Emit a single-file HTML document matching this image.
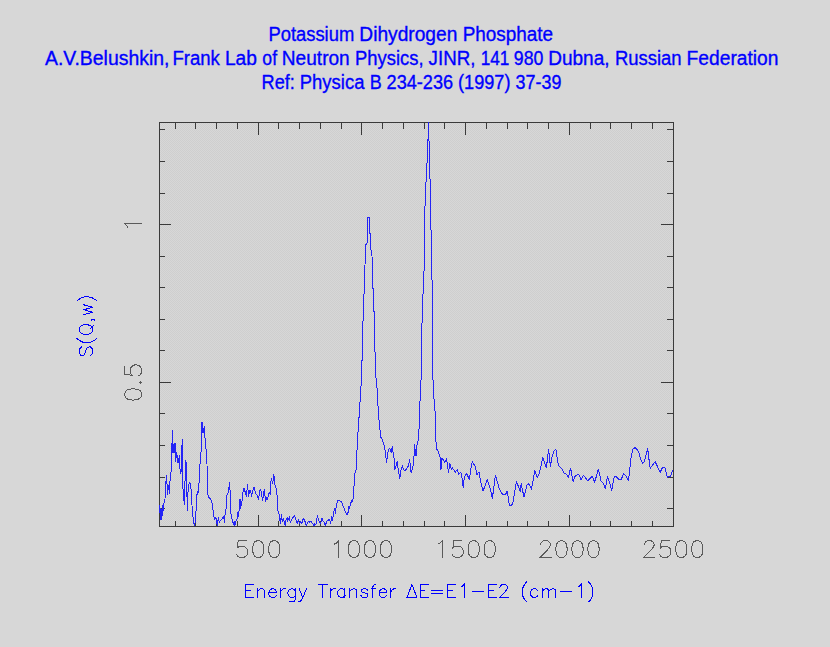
<!DOCTYPE html>
<html><head><meta charset="utf-8"><title>Potassium Dihydrogen Phosphate</title>
<style>
html,body{margin:0;padding:0;background:#d7d7d7;}
body{width:830px;height:647px;overflow:hidden;position:relative;font-family:"Liberation Sans",sans-serif;}
.t{position:absolute;left:0;width:822px;text-align:center;color:#0000ff;font-size:17px;line-height:20px;white-space:nowrap;}
svg{position:absolute;left:0;top:0;}
text{font-family:"Liberation Sans",sans-serif;}
</style></head><body>
<svg width="830" height="647" viewBox="0 0 830 647">
<defs><pattern id="dz" width="2" height="2" patternUnits="userSpaceOnUse"><rect width="2" height="2" fill="#d7d7d7"/><rect width="1" height="1" fill="#cecece"/><rect x="1" y="1" width="1" height="1" fill="#cecece"/></pattern></defs>
<rect x="160" y="123" width="513" height="403" fill="url(#dz)" shape-rendering="crispEdges"/>
<path d="M175.5 526.5v-5.5M175.5 122.5v6.5 M195.5 526.5v-5.5M195.5 122.5v6.5 M216.5 526.5v-5.5M216.5 122.5v6.5 M237.5 526.5v-5.5M237.5 122.5v6.5 M258.5 526.5v-11.5M258.5 122.5v12.5 M278.5 526.5v-5.5M278.5 122.5v6.5 M299.5 526.5v-5.5M299.5 122.5v6.5 M320.5 526.5v-5.5M320.5 122.5v6.5 M341.5 526.5v-5.5M341.5 122.5v6.5 M361.5 526.5v-11.5M361.5 122.5v12.5 M382.5 526.5v-5.5M382.5 122.5v6.5 M403.5 526.5v-5.5M403.5 122.5v6.5 M424.5 526.5v-5.5M424.5 122.5v6.5 M444.5 526.5v-5.5M444.5 122.5v6.5 M465.5 526.5v-11.5M465.5 122.5v12.5 M486.5 526.5v-5.5M486.5 122.5v6.5 M507.5 526.5v-5.5M507.5 122.5v6.5 M527.5 526.5v-5.5M527.5 122.5v6.5 M548.5 526.5v-5.5M548.5 122.5v6.5 M569.5 526.5v-11.5M569.5 122.5v12.5 M590.5 526.5v-5.5M590.5 122.5v6.5 M610.5 526.5v-5.5M610.5 122.5v6.5 M631.5 526.5v-5.5M631.5 122.5v6.5 M652.5 526.5v-5.5M652.5 122.5v6.5 M159.5 508.5h5.5M673.5 508.5h-6.5 M159.5 477.5h5.5M673.5 477.5h-6.5 M159.5 445.5h5.5M673.5 445.5h-6.5 M159.5 413.5h5.5M673.5 413.5h-6.5 M159.5 382.5h11.5M673.5 382.5h-12.5 M159.5 350.5h5.5M673.5 350.5h-6.5 M159.5 319.5h5.5M673.5 319.5h-6.5 M159.5 287.5h5.5M673.5 287.5h-6.5 M159.5 256.5h5.5M673.5 256.5h-6.5 M159.5 224.5h11.5M673.5 224.5h-12.5 M159.5 193.5h5.5M673.5 193.5h-6.5 M159.5 161.5h5.5M673.5 161.5h-6.5 M159.5 129.5h5.5M673.5 129.5h-6.5" stroke="#3a3a3a" stroke-width="1" fill="none" shape-rendering="crispEdges"/>
<rect x="159.5" y="122.5" width="514.0" height="404.0" fill="none" stroke="#3a3a3a" stroke-width="1" shape-rendering="crispEdges"/>
<path d="M246.17 540.70 L238.17 540.70 L237.37 547.90 L238.17 547.10 L240.57 546.30 L242.97 546.30 L245.37 547.10 L246.97 548.70 L247.77 551.10 L247.77 552.70 L246.97 555.10 L245.37 556.70 L242.97 557.50 L240.57 557.50 L238.17 556.70 L237.37 555.90 L236.57 554.30 M257.37 540.70 L254.97 541.50 L253.37 543.90 L252.57 547.90 L252.57 550.30 L253.37 554.30 L254.97 556.70 L257.37 557.50 L258.97 557.50 L261.37 556.70 L262.97 554.30 L263.77 550.30 L263.77 547.90 L262.97 543.90 L261.37 541.50 L258.97 540.70 L257.37 540.70 M273.37 540.70 L270.97 541.50 L269.37 543.90 L268.57 547.90 L268.57 550.30 L269.37 554.30 L270.97 556.70 L273.37 557.50 L274.97 557.50 L277.37 556.70 L278.97 554.30 L279.77 550.30 L279.77 547.90 L278.97 543.90 L277.37 541.50 L274.97 540.70 L273.37 540.70 M334.74 543.90 L336.34 543.10 L338.74 540.70 L338.74 557.50 M353.14 540.70 L350.74 541.50 L349.14 543.90 L348.34 547.90 L348.34 550.30 L349.14 554.30 L350.74 556.70 L353.14 557.50 L354.74 557.50 L357.14 556.70 L358.74 554.30 L359.54 550.30 L359.54 547.90 L358.74 543.90 L357.14 541.50 L354.74 540.70 L353.14 540.70 M369.14 540.70 L366.74 541.50 L365.14 543.90 L364.34 547.90 L364.34 550.30 L365.14 554.30 L366.74 556.70 L369.14 557.50 L370.74 557.50 L373.14 556.70 L374.74 554.30 L375.54 550.30 L375.54 547.90 L374.74 543.90 L373.14 541.50 L370.74 540.70 L369.14 540.70 M385.14 540.70 L382.74 541.50 L381.14 543.90 L380.34 547.90 L380.34 550.30 L381.14 554.30 L382.74 556.70 L385.14 557.50 L386.74 557.50 L389.14 556.70 L390.74 554.30 L391.54 550.30 L391.54 547.90 L390.74 543.90 L389.14 541.50 L386.74 540.70 L385.14 540.70 M438.51 543.90 L440.11 543.10 L442.51 540.70 L442.51 557.50 M461.71 540.70 L453.71 540.70 L452.91 547.90 L453.71 547.10 L456.11 546.30 L458.51 546.30 L460.91 547.10 L462.51 548.70 L463.31 551.10 L463.31 552.70 L462.51 555.10 L460.91 556.70 L458.51 557.50 L456.11 557.50 L453.71 556.70 L452.91 555.90 L452.11 554.30 M472.91 540.70 L470.51 541.50 L468.91 543.90 L468.11 547.90 L468.11 550.30 L468.91 554.30 L470.51 556.70 L472.91 557.50 L474.51 557.50 L476.91 556.70 L478.51 554.30 L479.31 550.30 L479.31 547.90 L478.51 543.90 L476.91 541.50 L474.51 540.70 L472.91 540.70 M488.91 540.70 L486.51 541.50 L484.91 543.90 L484.11 547.90 L484.11 550.30 L484.91 554.30 L486.51 556.70 L488.91 557.50 L490.51 557.50 L492.91 556.70 L494.51 554.30 L495.31 550.30 L495.31 547.90 L494.51 543.90 L492.91 541.50 L490.51 540.70 L488.91 540.70 M540.68 544.70 L540.68 543.90 L541.48 542.30 L542.28 541.50 L543.88 540.70 L547.08 540.70 L548.68 541.50 L549.48 542.30 L550.28 543.90 L550.28 545.50 L549.48 547.10 L547.88 549.50 L539.88 557.50 L551.08 557.50 M560.68 540.70 L558.28 541.50 L556.68 543.90 L555.88 547.90 L555.88 550.30 L556.68 554.30 L558.28 556.70 L560.68 557.50 L562.28 557.50 L564.68 556.70 L566.28 554.30 L567.08 550.30 L567.08 547.90 L566.28 543.90 L564.68 541.50 L562.28 540.70 L560.68 540.70 M576.68 540.70 L574.28 541.50 L572.68 543.90 L571.88 547.90 L571.88 550.30 L572.68 554.30 L574.28 556.70 L576.68 557.50 L578.28 557.50 L580.68 556.70 L582.28 554.30 L583.08 550.30 L583.08 547.90 L582.28 543.90 L580.68 541.50 L578.28 540.70 L576.68 540.70 M592.68 540.70 L590.28 541.50 L588.68 543.90 L587.88 547.90 L587.88 550.30 L588.68 554.30 L590.28 556.70 L592.68 557.50 L594.28 557.50 L596.68 556.70 L598.28 554.30 L599.08 550.30 L599.08 547.90 L598.28 543.90 L596.68 541.50 L594.28 540.70 L592.68 540.70 M644.45 544.70 L644.45 543.90 L645.25 542.30 L646.05 541.50 L647.65 540.70 L650.85 540.70 L652.45 541.50 L653.25 542.30 L654.05 543.90 L654.05 545.50 L653.25 547.10 L651.65 549.50 L643.65 557.50 L654.85 557.50 M669.25 540.70 L661.25 540.70 L660.45 547.90 L661.25 547.10 L663.65 546.30 L666.05 546.30 L668.45 547.10 L670.05 548.70 L670.85 551.10 L670.85 552.70 L670.05 555.10 L668.45 556.70 L666.05 557.50 L663.65 557.50 L661.25 556.70 L660.45 555.90 L659.65 554.30 M680.45 540.70 L678.05 541.50 L676.45 543.90 L675.65 547.90 L675.65 550.30 L676.45 554.30 L678.05 556.70 L680.45 557.50 L682.05 557.50 L684.45 556.70 L686.05 554.30 L686.85 550.30 L686.85 547.90 L686.05 543.90 L684.45 541.50 L682.05 540.70 L680.45 540.70 M696.45 540.70 L694.05 541.50 L692.45 543.90 L691.65 547.90 L691.65 550.30 L692.45 554.30 L694.05 556.70 L696.45 557.50 L698.05 557.50 L700.45 556.70 L702.05 554.30 L702.85 550.30 L702.85 547.90 L702.05 543.90 L700.45 541.50 L698.05 540.70 L696.45 540.70 M124.70 395.20 L125.50 397.60 L127.90 399.20 L131.90 400.00 L134.30 400.00 L138.30 399.20 L140.70 397.60 L141.50 395.20 L141.50 393.60 L140.70 391.20 L138.30 389.60 L134.30 388.80 L131.90 388.80 L127.90 389.60 L125.50 391.20 L124.70 393.60 L124.70 395.20 M139.90 382.40 L140.70 383.20 L141.50 382.40 L140.70 381.60 L139.90 382.40 M124.70 366.40 L124.70 374.40 L131.90 375.20 L131.10 374.40 L130.30 372.00 L130.30 369.60 L131.10 367.20 L132.70 365.60 L135.10 364.80 L136.70 364.80 L139.10 365.60 L140.70 367.20 L141.50 369.60 L141.50 372.00 L140.70 374.40 L139.90 375.20 L138.30 376.00 M127.90 227.80 L127.10 226.20 L124.70 223.80 L141.50 223.80" stroke="#5a5a5a" stroke-width="1" fill="none" stroke-linecap="square" shape-rendering="crispEdges"/>
<path d="M245.78 584.48 L245.78 597.50 M245.78 584.48 L253.84 584.48 M245.78 590.68 L250.74 590.68 M245.78 597.50 L253.84 597.50 M257.56 588.82 L257.56 597.50 M257.56 591.30 L259.42 589.44 L260.66 588.82 L262.52 588.82 L263.76 589.44 L264.38 591.30 L264.38 597.50 M268.72 592.54 L276.16 592.54 L276.16 591.30 L275.54 590.06 L274.92 589.44 L273.68 588.82 L271.82 588.82 L270.58 589.44 L269.34 590.68 L268.72 592.54 L268.72 593.78 L269.34 595.64 L270.58 596.88 L271.82 597.50 L273.68 597.50 L274.92 596.88 L276.16 595.64 M280.50 588.82 L280.50 597.50 M280.50 592.54 L281.12 590.68 L282.36 589.44 L283.60 588.82 L285.46 588.82 M295.38 588.82 L295.38 598.74 L294.76 600.60 L294.14 601.22 L292.90 601.84 L291.04 601.84 L289.80 601.22 M295.38 590.68 L294.14 589.44 L292.90 588.82 L291.04 588.82 L289.80 589.44 L288.56 590.68 L287.94 592.54 L287.94 593.78 L288.56 595.64 L289.80 596.88 L291.04 597.50 L292.90 597.50 L294.14 596.88 L295.38 595.64 M299.10 588.82 L302.82 597.50 M306.54 588.82 L302.82 597.50 L301.58 599.98 L300.34 601.22 L299.10 601.84 L298.48 601.84 M322.66 584.48 L322.66 597.50 M318.32 584.48 L327.00 584.48 M330.10 588.82 L330.10 597.50 M330.10 592.54 L330.72 590.68 L331.96 589.44 L333.20 588.82 L335.06 588.82 M344.98 588.82 L344.98 597.50 M344.98 590.68 L343.74 589.44 L342.50 588.82 L340.64 588.82 L339.40 589.44 L338.16 590.68 L337.54 592.54 L337.54 593.78 L338.16 595.64 L339.40 596.88 L340.64 597.50 L342.50 597.50 L343.74 596.88 L344.98 595.64 M349.94 588.82 L349.94 597.50 M349.94 591.30 L351.80 589.44 L353.04 588.82 L354.90 588.82 L356.14 589.44 L356.76 591.30 L356.76 597.50 M367.92 590.68 L367.30 589.44 L365.44 588.82 L363.58 588.82 L361.72 589.44 L361.10 590.68 L361.72 591.92 L362.96 592.54 L366.06 593.16 L367.30 593.78 L367.92 595.02 L367.92 595.64 L367.30 596.88 L365.44 597.50 L363.58 597.50 L361.72 596.88 L361.10 595.64 M375.98 584.48 L374.74 584.48 L373.50 585.10 L372.88 586.96 L372.88 597.50 M371.02 588.82 L375.36 588.82 M379.08 592.54 L386.52 592.54 L386.52 591.30 L385.90 590.06 L385.28 589.44 L384.04 588.82 L382.18 588.82 L380.94 589.44 L379.70 590.68 L379.08 592.54 L379.08 593.78 L379.70 595.64 L380.94 596.88 L382.18 597.50 L384.04 597.50 L385.28 596.88 L386.52 595.64 M390.86 588.82 L390.86 597.50 M390.86 592.54 L391.48 590.68 L392.72 589.44 L393.96 588.82 L395.82 588.82 M411.94 584.48 L406.98 597.50 L416.90 597.50 L411.94 584.48 M420.00 584.48 L420.00 597.50 M420.00 584.48 L428.06 584.48 M420.00 590.68 L424.96 590.68 M420.00 597.50 L428.06 597.50 M431.78 590.06 L442.94 590.06 M431.78 593.78 L442.94 593.78 M447.90 584.48 L447.90 597.50 M447.90 584.48 L455.96 584.48 M447.90 590.68 L452.86 590.68 M447.90 597.50 L455.96 597.50 M460.92 586.96 L462.16 586.34 L464.02 584.48 L464.02 597.50 M472.08 591.92 L483.24 591.92 M488.20 584.48 L488.20 597.50 M488.20 584.48 L496.26 584.48 M488.20 590.68 L493.16 590.68 M488.20 597.50 L496.26 597.50 M499.98 587.58 L499.98 586.96 L500.60 585.72 L501.22 585.10 L502.46 584.48 L504.94 584.48 L506.18 585.10 L506.80 585.72 L507.42 586.96 L507.42 588.20 L506.80 589.44 L505.56 591.30 L499.36 597.50 L508.04 597.50 M526.64 582.00 L525.40 583.24 L524.16 585.10 L522.92 587.58 L522.30 590.68 L522.30 593.16 L522.92 596.26 L524.16 598.74 L525.40 600.60 L526.64 601.84 M537.80 590.68 L536.56 589.44 L535.32 588.82 L533.46 588.82 L532.22 589.44 L530.98 590.68 L530.36 592.54 L530.36 593.78 L530.98 595.64 L532.22 596.88 L533.46 597.50 L535.32 597.50 L536.56 596.88 L537.80 595.64 M542.14 588.82 L542.14 597.50 M542.14 591.30 L544.00 589.44 L545.24 588.82 L547.10 588.82 L548.34 589.44 L548.96 591.30 L548.96 597.50 M548.96 591.30 L550.82 589.44 L552.06 588.82 L553.92 588.82 L555.16 589.44 L555.78 591.30 L555.78 597.50 M560.74 591.92 L571.90 591.92 M578.10 586.96 L579.34 586.34 L581.20 584.48 L581.20 597.50 M588.64 582.00 L589.88 583.24 L591.12 585.10 L592.36 587.58 L592.98 590.68 L592.98 593.16 L592.36 596.26 L591.12 598.74 L589.88 600.60 L588.64 601.84 M81.34 346.98 L80.10 348.22 L79.48 350.08 L79.48 352.56 L80.10 354.42 L81.34 355.66 L82.58 355.66 L83.82 355.04 L84.44 354.42 L85.06 353.18 L86.30 349.46 L86.92 348.22 L87.54 347.60 L88.78 346.98 L90.64 346.98 L91.88 348.22 L92.50 350.08 L92.50 352.56 L91.88 354.42 L90.64 355.66 M77.00 338.30 L78.24 339.54 L80.10 340.78 L82.58 342.02 L85.68 342.64 L88.16 342.64 L91.26 342.02 L93.74 340.78 L95.60 339.54 L96.84 338.30 M79.48 330.86 L80.10 332.10 L81.34 333.34 L82.58 333.96 L84.44 334.58 L87.54 334.58 L89.40 333.96 L90.64 333.34 L91.88 332.10 L92.50 330.86 L92.50 328.38 L91.88 327.14 L90.64 325.90 L89.40 325.28 L87.54 324.66 L84.44 324.66 L82.58 325.28 L81.34 325.90 L80.10 327.14 L79.48 328.38 L79.48 330.86 M90.02 329.00 L93.74 325.28 M91.88 319.08 L92.50 319.70 L91.88 320.32 L91.26 319.70 L91.88 319.08 L93.12 319.08 L94.36 319.70 L94.98 320.32 M83.82 314.74 L92.50 312.26 M83.82 309.78 L92.50 312.26 M83.82 309.78 L92.50 307.30 M83.82 304.82 L92.50 307.30 M77.00 301.10 L78.24 299.86 L80.10 298.62 L82.58 297.38 L85.68 296.76 L88.16 296.76 L91.26 297.38 L93.74 298.62 L95.60 299.86 L96.84 301.10" stroke="#0000ff" stroke-width="1" fill="none" stroke-linecap="square" shape-rendering="crispEdges"/>
<path d="M159.5 513.0 L159.8 505.0 L160.3 520.0 L160.8 508.0 L161.3 520.0 L161.8 509.0 L162.2 516.0 L162.6 505.5 L162.9 513.0 L163.3 505.5 L164.4 501.3 L165.0 498.9 L165.4 486.9 L166.3 478.7 L166.6 475.3 L167.0 483.5 L167.5 494.6 L168.5 485.9 L169.5 493.9 L169.5 481.6 L170.7 479.6 L170.7 473.4 L171.6 470.0 L171.6 455.7 L172.4 430.2 L172.9 442.0 L173.0 453.2 L174.1 443.0 L174.7 453.0 L175.2 443.8 L175.6 461.7 L176.7 452.3 L178.0 463.4 L179.5 455.3 L180.1 471.0 L180.9 474.0 L181.3 468.0 L182.2 439.1 L182.6 484.0 L184.3 504.7 L185.6 460.8 L186.6 463.4 L186.8 489.0 L187.4 510.7 L188.1 490.0 L189.1 483.6 L190.0 482.6 L190.7 485.5 L191.7 497.2 L192.2 510.2 L193.7 523.3 L194.7 525.8 L195.7 516.3 L196.7 498.2 L197.2 491.1 L197.7 495.0 L198.7 489.1 L199.5 474.0 L200.0 464.0 L200.9 455.7 L201.6 432.8 L202.0 421.7 L203.0 432.8 L204.3 426.4 L205.2 441.3 L206.3 452.3 L207.0 464.0 L207.2 484.1 L207.7 494.2 L208.8 497.2 L210.8 499.2 L212.3 504.2 L213.3 512.2 L214.3 519.3 L215.8 517.3 L217.3 525.8 L218.3 517.8 L219.3 522.3 L220.3 520.3 L222.3 518.8 L223.8 516.3 L224.3 523.0 L224.8 516.3 L226.3 507.2 L226.8 495.2 L228.4 492.1 L229.6 482.1 L230.2 493.1 L230.6 512.2 L232.4 520.3 L233.4 524.3 L234.4 521.3 L234.9 525.8 L235.9 521.3 L236.9 520.3 L237.9 512.2 L238.4 516.3 L239.4 508.2 L240.0 499.2 L240.5 508.2 L242.0 501.2 L243.5 488.1 L244.5 488.6 L245.5 494.2 L246.0 491.1 L246.5 496.2 L247.5 484.6 L248.6 496.2 L249.6 490.1 L250.6 490.6 L251.6 496.2 L252.6 491.1 L254.1 487.1 L255.6 493.1 L257.1 495.2 L258.6 499.2 L260.1 489.1 L261.1 491.1 L262.6 500.2 L264.3 489.1 L265.6 501.2 L266.6 497.2 L267.6 499.2 L269.2 492.1 L270.2 494.2 L271.2 478.6 L272.7 483.6 L273.9 474.0 L274.4 483.1 L275.7 486.6 L276.7 490.1 L277.2 498.2 L278.0 511.2 L278.7 512.2 L279.7 518.3 L280.4 523.3 L281.4 514.2 L282.2 521.3 L283.2 518.8 L284.2 521.3 L285.2 525.3 L286.2 519.3 L287.2 517.8 L287.7 521.3 L289.3 516.8 L290.3 522.3 L291.8 519.3 L294.3 515.3 L295.8 519.3 L297.3 523.3 L298.3 519.8 L299.3 523.3 L300.8 521.8 L301.8 523.3 L303.3 518.3 L304.8 520.8 L306.3 525.3 L308.4 521.3 L309.9 522.3 L310.9 521.3 L312.4 523.3 L313.9 525.8 L314.9 523.8 L315.9 524.3 L317.4 515.3 L318.4 520.3 L319.0 521.3 L320.5 523.3 L322.0 518.3 L323.0 521.3 L324.0 522.3 L325.5 525.8 L326.5 521.3 L328.0 520.3 L329.6 519.3 L330.6 523.8 L331.6 516.3 L332.6 520.3 L333.6 513.2 L334.6 508.2 L335.3 513.2 L336.6 504.2 L337.6 500.7 L339.1 500.2 L341.6 502.2 L343.6 507.2 L345.6 512.2 L346.9 514.8 L348.2 512.2 L348.7 506.2 L349.4 508.2 L350.7 503.2 L351.7 500.7 L352.2 501.7 L353.4 498.2 L353.7 487.1 L354.4 484.1 L354.7 474.0 L356.0 470.0 L356.4 467.0 L357.3 442.2 L358.6 424.1 L359.6 408.0 L360.3 398.0 L360.6 393.3 L361.3 381.2 L361.4 361.6 L362.3 360.1 L362.6 333.0 L363.4 310.2 L364.1 292.0 L364.4 270.0 L365.0 265.3 L365.7 244.7 L367.0 243.7 L367.4 231.1 L367.7 217.6 L369.4 217.3 L369.7 225.1 L370.2 238.2 L370.7 249.2 L371.7 250.7 L372.0 256.3 L372.5 268.0 L372.7 288.6 L373.7 289.0 L373.7 311.2 L374.5 312.2 L374.7 333.0 L375.2 362.1 L375.7 377.2 L376.4 379.2 L376.7 387.3 L377.5 388.3 L377.7 402.0 L378.4 412.0 L379.2 422.1 L380.7 437.2 L382.2 439.2 L384.7 447.2 L385.8 456.3 L386.6 462.3 L387.3 456.3 L388.3 450.2 L389.8 448.2 L391.3 452.3 L392.3 446.2 L393.1 452.3 L394.3 460.3 L394.8 469.2 L396.0 466.2 L397.2 461.7 L398.0 468.2 L399.8 478.3 L401.0 470.2 L402.3 465.7 L403.6 469.7 L405.1 470.7 L407.1 468.2 L408.6 465.2 L409.6 459.7 L411.1 473.2 L412.1 469.2 L413.6 464.2 L414.1 454.1 L414.6 444.6 L415.3 453.1 L416.1 456.2 L416.6 447.1 L417.6 442.6 L418.6 438.6 L419.1 427.0 L419.4 401.7 L420.3 400.7 L420.4 380.6 L421.3 379.6 L421.4 362.0 L421.7 333.6 L422.6 304.2 L424.1 269.0 L424.6 225.0 L425.2 198.5 L426.1 180.0 L426.7 163.2 L427.4 162.2 L427.4 141.6 L428.0 140.6 L428.2 122.5 L428.7 122.5 L428.9 141.1 L429.5 142.1 L429.7 178.3 L430.5 179.3 L430.6 227.9 L431.3 230.8 L431.4 277.8 L432.2 280.7 L432.7 362.0 L432.9 379.6 L433.5 380.6 L433.7 398.7 L434.5 399.7 L434.7 410.7 L435.5 411.7 L435.8 427.0 L435.9 440.1 L436.4 448.6 L438.2 451.6 L439.7 456.2 L440.7 460.2 L441.0 469.7 L441.7 458.2 L443.3 459.7 L444.8 462.2 L446.6 458.7 L447.3 464.2 L448.6 472.2 L449.8 463.7 L451.3 469.2 L452.3 467.7 L455.3 472.2 L457.3 469.7 L458.8 474.2 L460.8 472.2 L461.8 476.3 L463.2 487.3 L464.4 477.3 L466.4 473.2 L467.9 476.3 L469.4 479.8 L470.9 468.2 L472.4 461.7 L474.0 464.6 L475.5 467.1 L477.0 474.6 L479.0 472.1 L480.5 481.2 L483.1 491.2 L487.1 479.7 L490.1 488.2 L492.4 498.3 L495.4 475.2 L499.1 488.2 L502.7 494.7 L505.7 494.2 L507.2 491.2 L509.4 505.3 L511.7 505.3 L513.2 501.3 L516.5 481.2 L520.2 491.7 L521.2 483.7 L524.0 497.3 L526.8 485.2 L528.8 483.7 L531.5 489.2 L534.8 470.6 L537.3 477.2 L538.8 475.2 L542.9 457.6 L546.4 467.6 L548.6 449.5 L550.4 466.1 L552.4 455.1 L554.5 450.1 L556.0 449.5 L557.5 461.1 L559.0 466.1 L562.1 469.1 L564.1 473.2 L566.6 474.2 L568.4 477.2 L570.6 468.1 L573.1 481.7 L575.1 476.2 L578.6 474.2 L581.1 479.7 L583.4 475.2 L587.7 480.7 L592.2 476.2 L594.7 482.2 L598.4 469.1 L601.2 481.7 L602.8 482.2 L605.3 488.7 L607.5 476.2 L611.8 490.3 L614.3 476.2 L616.3 476.7 L619.3 479.7 L621.3 479.2 L623.7 473.7 L626.0 476.0 L628.5 480.8 L629.7 469.6 L631.2 456.6 L632.7 449.6 L635.1 447.3 L638.6 451.6 L640.6 459.1 L642.6 463.7 L644.6 461.2 L647.6 448.1 L649.1 460.2 L650.2 468.2 L655.2 461.7 L660.2 472.2 L662.7 467.2 L665.2 468.2 L667.4 477.2 L670.3 476.2 L673.0 470.2" stroke="#2424f6" stroke-width="1" fill="none" stroke-linejoin="round" shape-rendering="crispEdges"/>
<text x="268.39" y="41" textLength="85.89" lengthAdjust="spacingAndGlyphs" fill="#0000ff" stroke="#0000ff" stroke-width="0.35" font-size="20">Potassium</text>
<text x="359.33" y="41" textLength="97.98" lengthAdjust="spacingAndGlyphs" fill="#0000ff" stroke="#0000ff" stroke-width="0.35" font-size="20">Dihydrogen</text>
<text x="462.65" y="41" textLength="90.49" lengthAdjust="spacingAndGlyphs" fill="#0000ff" stroke="#0000ff" stroke-width="0.35" font-size="20">Phosphate</text>
<text x="44.96" y="65" textLength="124.46" lengthAdjust="spacingAndGlyphs" fill="#0000ff" stroke="#0000ff" stroke-width="0.35" font-size="20">A.V.Belushkin,</text>
<text x="172.38" y="65" textLength="47.44" lengthAdjust="spacingAndGlyphs" fill="#0000ff" stroke="#0000ff" stroke-width="0.35" font-size="20">Frank</text>
<text x="224.93" y="65" textLength="32.03" lengthAdjust="spacingAndGlyphs" fill="#0000ff" stroke="#0000ff" stroke-width="0.35" font-size="20">Lab</text>
<text x="262.36" y="65" textLength="14.70" lengthAdjust="spacingAndGlyphs" fill="#0000ff" stroke="#0000ff" stroke-width="0.35" font-size="20">of</text>
<text x="281.83" y="65" textLength="67.90" lengthAdjust="spacingAndGlyphs" fill="#0000ff" stroke="#0000ff" stroke-width="0.35" font-size="20">Neutron</text>
<text x="355.09" y="65" textLength="68.41" lengthAdjust="spacingAndGlyphs" fill="#0000ff" stroke="#0000ff" stroke-width="0.35" font-size="20">Physics,</text>
<text x="428.61" y="65" textLength="46.77" lengthAdjust="spacingAndGlyphs" fill="#0000ff" stroke="#0000ff" stroke-width="0.35" font-size="20">JINR,</text>
<text x="480.69" y="65" textLength="28.70" lengthAdjust="spacingAndGlyphs" fill="#0000ff" stroke="#0000ff" stroke-width="0.35" font-size="20">141</text>
<text x="513.87" y="65" textLength="29.56" lengthAdjust="spacingAndGlyphs" fill="#0000ff" stroke="#0000ff" stroke-width="0.35" font-size="20">980</text>
<text x="548.24" y="65" textLength="61.32" lengthAdjust="spacingAndGlyphs" fill="#0000ff" stroke="#0000ff" stroke-width="0.35" font-size="20">Dubna,</text>
<text x="614.89" y="65" textLength="66.67" lengthAdjust="spacingAndGlyphs" fill="#0000ff" stroke="#0000ff" stroke-width="0.35" font-size="20">Russian</text>
<text x="686.62" y="65" textLength="91.82" lengthAdjust="spacingAndGlyphs" fill="#0000ff" stroke="#0000ff" stroke-width="0.35" font-size="20">Federation</text>
<text x="261.62" y="89" textLength="33.17" lengthAdjust="spacingAndGlyphs" fill="#0000ff" stroke="#0000ff" stroke-width="0.35" font-size="20">Ref:</text>
<text x="299.78" y="89" textLength="64.67" lengthAdjust="spacingAndGlyphs" fill="#0000ff" stroke="#0000ff" stroke-width="0.35" font-size="20">Physica</text>
<text x="369.63" y="89" textLength="11.98" lengthAdjust="spacingAndGlyphs" fill="#0000ff" stroke="#0000ff" stroke-width="0.35" font-size="20">B</text>
<text x="386.59" y="89" textLength="66.46" lengthAdjust="spacingAndGlyphs" fill="#0000ff" stroke="#0000ff" stroke-width="0.35" font-size="20">234-236</text>
<text x="458.08" y="89" textLength="52.40" lengthAdjust="spacingAndGlyphs" fill="#0000ff" stroke="#0000ff" stroke-width="0.35" font-size="20">(1997)</text>
<text x="515.52" y="89" textLength="45.83" lengthAdjust="spacingAndGlyphs" fill="#0000ff" stroke="#0000ff" stroke-width="0.35" font-size="20">37-39</text>
</svg>
</body></html>
